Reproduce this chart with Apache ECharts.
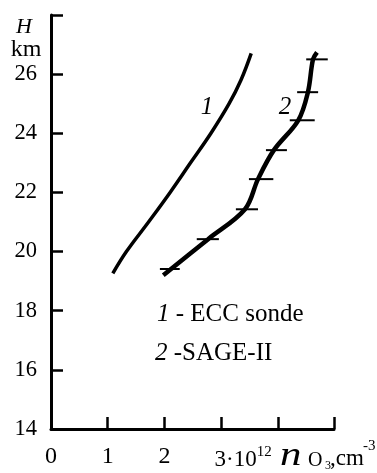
<!DOCTYPE html>
<html>
<head>
<meta charset="utf-8">
<script src="https://cdn.jsdelivr.net/npm/echarts@6/dist/echarts.min.js"></script>
<style>
html,body{margin:0;padding:0;background:#fff;}
#c{width:377px;height:473px;}
</style>
</head>
<body>
<div id="c"></div>
<script>
// ---- data ----
const yTicks = [14, 16, 18, 20, 22, 24, 26, 28];
const xTicks = [0, 1, 2, 3, 4];
// Curve 1: ECC sonde (n_O3 in 1e12 cm^-3, H in km)
const eccX = [1.09, 1.33, 1.72, 2.10, 2.46, 2.82, 3.14, 3.35, 3.53];
const eccH = [19.26, 20.0, 21.0, 22.0, 23.0, 24.0, 25.0, 25.8, 26.7];
// Curve 2: SAGE-II
const sageX = [1.98, 2.77, 3.42, 3.65, 3.93, 4.36, 4.53, 4.62, 4.69];
const sageH = [19.2, 20.42, 21.43, 22.45, 23.43, 24.44, 25.39, 26.5, 26.74];
// SAGE-II horizontal bars
const barH  = [19.41, 20.42, 21.43, 22.45, 23.43, 24.44, 25.39, 26.5];
const barLo = [1.92, 2.57, 3.26, 3.49, 3.79, 4.21, 4.34, 4.50];
const barHi = [2.27, 2.96, 3.65, 3.92, 4.16, 4.65, 4.71, 4.88];

const FONT = "'Liberation Serif', 'Times New Roman', 'DejaVu Serif', serif";

const chart = echarts.init(document.getElementById('c'), null, {renderer: 'canvas'});
function txt(x, y, text, size, italic, align, sx) {
  return {type: 'text', x: x, y: y, scaleX: sx || 1, style: {
    text: text, fontSize: size, fontFamily: FONT, fontStyle: italic ? 'italic' : 'normal',
    fill: '#000', align: align || 'left', verticalAlign: 'middle'}};
}
const option = {
  animation: false,
  backgroundColor: '#fff',
  textStyle: {fontFamily: FONT, color: '#000'},
  grid: {left: 51, right: 43, top: 15, bottom: 44, containLabel: false},
  xAxis: {
    type: 'value', min: 0, max: 4.99, interval: 1,
    axisLine: {lineStyle: {color: '#000', width: 3}},
    axisTick: {inside: true, length: 12, lineStyle: {color: '#000', width: 2.5}},
    splitLine: {show: false},
    axisLabel: {
      margin: 16, fontSize: 24, color: '#000', fontFamily: FONT,
      formatter: function (v) {
        if (v === 3) return '{a|3·10}{b|12}';
        if (v > 3) return '';
        return String(v);
      },
      rich: {
        a: {fontSize: 23, fontFamily: FONT, color: '#000', padding: [0, 0, 0, 44], verticalAlign: 'bottom', lineHeight: 26},
        b: {fontSize: 15, fontFamily: FONT, color: '#000', verticalAlign: 'top', lineHeight: 15}
      }
    }
  },
  yAxis: {
    type: 'value', min: 14, max: 28, interval: 2,
    axisLine: {lineStyle: {color: '#000', width: 3}},
    axisTick: {inside: true, length: 12, lineStyle: {color: '#000', width: 2.5}},
    splitLine: {show: false},
    axisLabel: {
      margin: 14, fontSize: 22.5, color: '#000', fontFamily: FONT,
      formatter: function (v) { return v === 28 ? '' : String(v); }
    }
  },
  graphic: [
    txt(24, 27, 'H', 22, true, 'center'),
    txt(26, 50, 'km', 24, false, 'center'),
    txt(207, 107, '1', 25, true, 'center'),
    txt(285, 107, '2', 25, true, 'center'),
    {type: 'text', x: 157, y: 314, style: {text: '{i|1} - ECC sonde', fontSize: 25, fontFamily: FONT, fill: '#000', align: 'left', verticalAlign: 'middle',
      rich: {i: {fontSize: 25, fontFamily: FONT, fontStyle: 'italic', fill: '#000'}}}},
    {type: 'text', x: 155, y: 353, style: {text: '{i|2} -SAGE-II', fontSize: 25, fontFamily: FONT, fill: '#000', align: 'left', verticalAlign: 'middle',
      rich: {i: {fontSize: 25, fontFamily: FONT, fontStyle: 'italic', fill: '#000'}}}},
    txt(280, 456, 'n', 33, true, 'left', 1.3),
    txt(308, 461, 'O', 20, false, 'left'),
    txt(325, 466, '3', 12, false, 'left'),
    txt(330, 459, ',cm', 23, false, 'left'),
    txt(363, 446, '-3', 15, false, 'left')
  ],
  series: [
    {
      name: 'ECC sonde', type: 'line', smooth: 0.4, symbol: 'none',
      lineStyle: {color: '#000', width: 3.5},
      data: eccX.map((x, i) => [x, eccH[i]])
    },
    {
      name: 'SAGE-II', type: 'line', smooth: 0.35, symbol: 'none',
      lineStyle: {color: '#000', width: 4.5},
      data: sageX.map((x, i) => [x, sageH[i]])
    },
    {
      name: 'SAGE-II bars', type: 'custom',
      renderItem: function (params, api) {
        const p1 = api.coord([api.value(0), api.value(2)]);
        const p2 = api.coord([api.value(1), api.value(2)]);
        return {type: 'line', shape: {x1: p1[0], y1: p1[1], x2: p2[0], y2: p2[1]},
          style: {stroke: '#000', lineWidth: 2}};
      },
      data: barH.map((h, i) => [barLo[i], barHi[i], h])
    }
  ]
};
chart.setOption(option);
</script>
</body>
</html>
